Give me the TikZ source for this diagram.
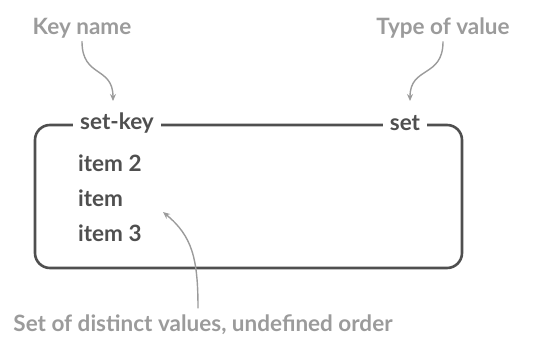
\documentclass[tikz,border=0pt]{standalone}
\usepackage{fontspec}
\setmainfont{Lato}
\usetikzlibrary{arrows.meta}

\definecolor{notegray}{HTML}{9B9B9B}
\definecolor{boxgray}{HTML}{4F4F4F}

\begin{document}
\begin{tikzpicture}[x=1pt,y=-1pt,line cap=round,line join=round,
  note/.style={text=notegray,font=\bfseries\fontsize{22.5}{25}\selectfont},
  entry/.style={text=boxgray,font=\bfseries\fontsize{22.5}{25}\selectfont,inner sep=0pt},
  tag/.style={entry,fill=white,inner xsep=7pt,inner ysep=2pt},
  pointer/.style={draw=notegray,line width=1.4pt,-{Stealth[length=7pt,width=6pt]}}]
% set value: rounded frame, key and type on the top edge, three members inside

\useasboundingbox (0,0) rectangle (533,348);

% frame
\draw[boxgray,line width=2.6pt,rounded corners=15pt] (35,125) rectangle (462,268);

% labels on the frame
\node[tag] (keyname) at (117,123) {set-key};
\node[tag] (typename) at (405,123) {set};

% members
\node[entry,anchor=west] (item2) at (78,163) {item 2};
\node[entry,anchor=west] (item1) at (78,198) {item};
\node[entry,anchor=west] (item3) at (78,233) {item 3};

% notes
\node[note] (keynote) at (82,28) {Key name};
\node[note] (typenote) at (443,28) {Type of value};
\node[note] (setnote) at (203,325) {Set of distinct values, undefined order};

% pointer tips
\coordinate (keytip) at (113,101);
\coordinate (typetip) at (410,101);
\coordinate (settip) at (163,212);
\coordinate (setfoot) at (198,308);

% pointers
\draw[pointer] (keynote.south) .. controls (82,78) and (113,66) .. (keytip);
\draw[pointer] (typenote.south) .. controls (443,78) and (410,66) .. (typetip);
\draw[pointer] (setfoot) .. controls (198,258) and (192,236) .. (settip);

\end{tikzpicture}
\end{document}
